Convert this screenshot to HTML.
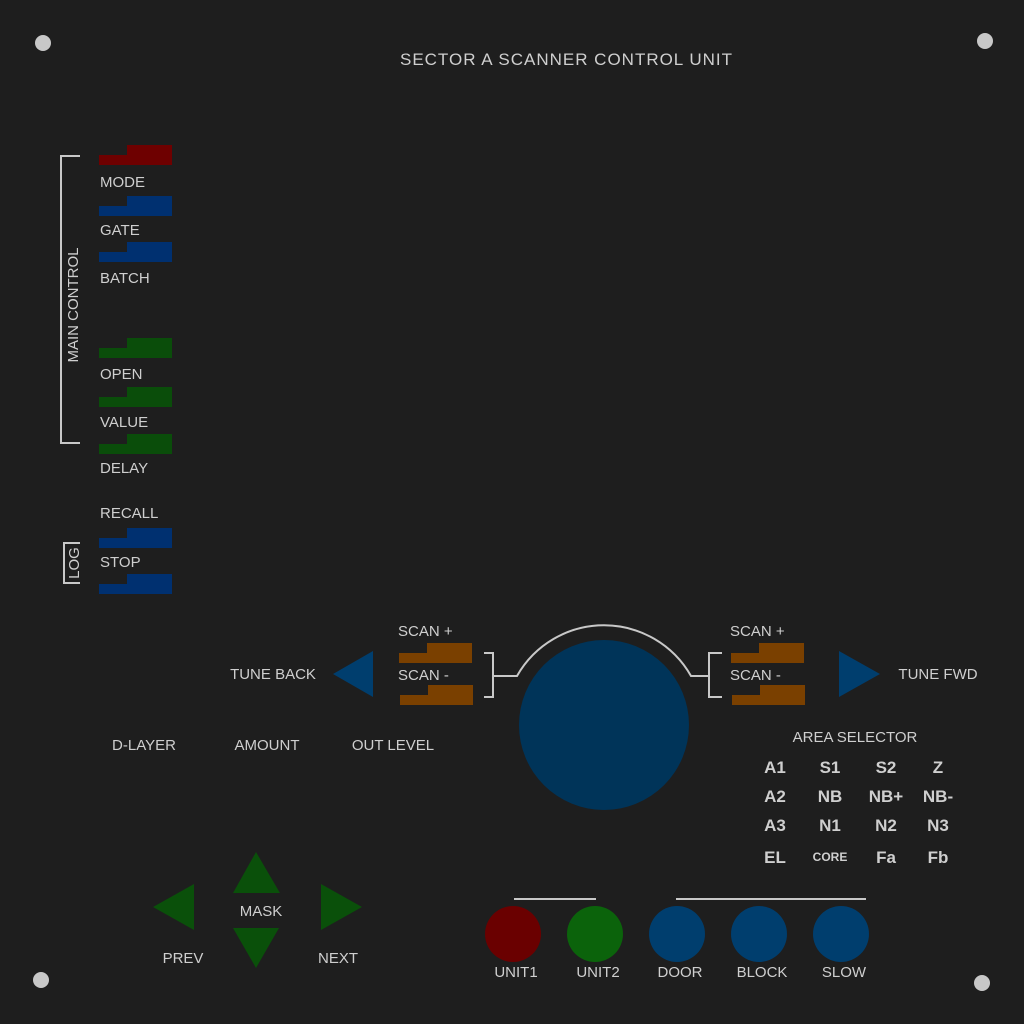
<!DOCTYPE html>
<html><head><meta charset="utf-8"><style>
html,body{margin:0;padding:0;background:#1e1e1e;}
svg{display:block;}
text{font-family:"Liberation Sans",sans-serif;fill:#cfcfcf;font-size:15px;}
.b{font-weight:bold;font-size:17px;}
</style></head><body>
<svg width="1024" height="1024" viewBox="0 0 1024 1024">
<rect width="1024" height="1024" fill="#1e1e1e"/>
<g fill="#c8c8c8">
<circle cx="43" cy="43" r="8"/><circle cx="985" cy="41" r="8"/><circle cx="41" cy="980" r="8"/><circle cx="982" cy="983" r="8"/>
</g>
<text x="400" y="65" textLength="332" lengthAdjust="spacing" font-size="17" style="font-size:17px">SECTOR A SCANNER CONTROL UNIT</text>
<path d="M80 156H61V443H80" stroke="#c8c8c8" stroke-width="2" fill="none"/>
<text transform="translate(78,305) rotate(-90)" text-anchor="middle" font-size="14">MAIN CONTROL</text>
<path d="M80 543H64V583H80" stroke="#c8c8c8" stroke-width="2" fill="none"/>
<text transform="translate(79,563) rotate(-90)" text-anchor="middle" font-size="14">LOG</text>
<g id="left"></g>
<g id="scan"></g>
<path d="M484 653H493V697H484M493 676H517A100 100 0 0 1 691 676H709M722 653H709V697H722" stroke="#c8c8c8" stroke-width="2" fill="none"/>
<circle cx="604" cy="725" r="85" fill="#003459"/>
<polygon points="333,674 373,651 373,697" fill="#003e6e"/>
<polygon points="880,674 839,651 839,697" fill="#003e6e"/>
<text x="273" y="679" text-anchor="middle">TUNE BACK</text>
<text x="938" y="679" text-anchor="middle">TUNE FWD</text>
<text x="144" y="750" text-anchor="middle">D-LAYER</text>
<text x="267" y="750" text-anchor="middle">AMOUNT</text>
<text x="393" y="750" text-anchor="middle">OUT LEVEL</text>
<text x="855" y="742" text-anchor="middle">AREA SELECTOR</text>
<g id="area"></g>
<g fill="#0a500a">
<polygon points="153,907 194,884 194,930"/>
<polygon points="256,852 233,893 280,893"/>
<polygon points="256,968 233,928 279,928"/>
<polygon points="362,907 321,884 321,930"/>
</g>
<text x="261" y="916" text-anchor="middle">MASK</text>
<text x="183" y="963" text-anchor="middle">PREV</text>
<text x="338" y="963" text-anchor="middle">NEXT</text>
<path d="M514 899H596M676 899H866" stroke="#c8c8c8" stroke-width="2"/>
<g id="units"></g>
</svg>
<script>
const NS='http://www.w3.org/2000/svg';
function mk(t,a,p){const e=document.createElementNS(NS,t);for(const k in a)e.setAttribute(k,a[k]);p.appendChild(e);return e;}
function btn(p,x,y,w,s,col,name){const g=mk('polygon',{points:`${x},${y+10} ${x+s},${y+10} ${x+s},${y} ${x+w},${y} ${x+w},${y+20} ${x},${y+20}`,fill:col},p);

}
const left=document.getElementById('left');
const lb=[['MODE',145,'#6e0000',182],['GATE',196,'#003070',230],['BATCH',242,'#003070',278],['OPEN',338,'#0a4d0a',374],['VALUE',387,'#0a4d0a',422],['DELAY',434,'#0a4d0a',468],['STOP',528,'#003070',562],['',574,'#003070',0]];
lb.forEach(b=>{btn(left,99,b[1],73,28,b[2],(b[0]||'extra').toLowerCase()+'-button');
if(b[0]){const t=mk('text',{x:100,y:b[3]+5},left);t.textContent=b[0];

}});
{const t=mk('text',{x:100,y:518},left);t.textContent='RECALL';

}
const sc=document.getElementById('scan');
[[399,'left'],[731,'right']].forEach(([x,s])=>{
btn(sc,x,643,73,28,'#7a4000','scan-plus-'+s);
btn(sc,x+1,685,73,28,'#7a4000','scan-minus-'+s);
let t=mk('text',{x:x-1,y:636},sc);t.textContent='SCAN +';


t=mk('text',{x:x-1,y:680},sc);t.textContent='SCAN -';

});
const area=document.getElementById('area');
const grid=[['A1','S1','S2','Z'],['A2','NB','NB+','NB-'],['A3','N1','N2','N3'],['EL','CORE','Fa','Fb']];
const cx=[775,830,886,938],cy=[773,802,831,863];
grid.forEach((r,i)=>r.forEach((s,j)=>{const t=mk('text',{x:cx[j],y:cy[i],'text-anchor':'middle',class:'b'},area);
if(s==='CORE')t.setAttribute('font-size','12'),t.style.fontSize='12px',t.setAttribute('y',cy[i]-2);
t.textContent=s;

}));
const units=document.getElementById('units');
const un=[['UNIT1','#6a0000'],['UNIT2','#0b630b'],['DOOR','#003e6e'],['BLOCK','#003e6e'],['SLOW','#003e6e']];
un.forEach((u,i)=>{const x=513+i*82;
const c=mk('circle',{cx:x,cy:934,r:28,fill:u[1]},units);


const t=mk('text',{x:x+3,y:977,'text-anchor':'middle'},units);t.textContent=u[0];

});
</script>
</body></html>
